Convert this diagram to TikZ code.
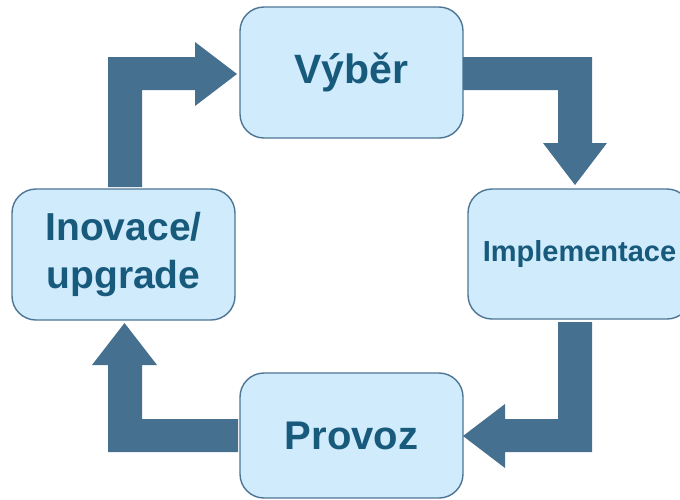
\documentclass[tikz,border=0pt]{standalone}
\usepackage{fontspec}
\setmainfont{Liberation Sans}
\definecolor{boxfill}{HTML}{CFEBFC}
\definecolor{boxline}{HTML}{4F7595}
\definecolor{arrowc}{HTML}{46708F}
\definecolor{textc}{HTML}{175A7C}
\tikzset{
  stagebox/.style={draw=boxline, line width=1.4pt, fill=boxfill, rounded corners=24pt,
    minimum width=223pt, text=textc, font=\bfseries, align=center, inner sep=0pt},
  bigarrow/.style={fill=arrowc, draw=none}
}
\begin{document}
\begin{tikzpicture}[x=1pt,y=-1pt]
\useasboundingbox (0,0) rectangle (680,499);
\clip (0,0) rectangle (680,499);
% boxes
\node[stagebox, minimum height=131pt, font=\bfseries\fontsize{41}{48}\selectfont] (vyber) at (351.5,72.5) {Výběr};
\node[stagebox, minimum height=131pt, font=\bfseries\fontsize{39}{48}\selectfont] (inov) at (123.5,254.5) {Inovace/\\upgrade};
\node[stagebox, minimum height=130pt, font=\bfseries\fontsize{29}{34}\selectfont] (impl) at (579.5,254) {Implementace};
\node[stagebox, minimum height=125pt, font=\bfseries\fontsize{40}{48}\selectfont] (provoz) at (351.5,435.5) {Provoz};
% arrows
\fill[bigarrow] (108,187) -- (108,57) -- (195,57) -- (195,42) -- (237,74) -- (195,106) -- (195,90) -- (142,90) -- (142,187) -- cycle;
\fill[bigarrow] (463,57) -- (592,57) -- (592,143) -- (607,143) -- (575,185) -- (543,143) -- (558,143) -- (558,90) -- (463,90) -- cycle;
\fill[bigarrow] (592,322) -- (592,452) -- (505,452) -- (505,468) -- (463,436) -- (505,404) -- (505,419) -- (558,419) -- (558,322) -- cycle;
\fill[bigarrow] (238,452) -- (108,452) -- (108,365) -- (92,365) -- (124.5,323) -- (157,365) -- (142,365) -- (142,419) -- (238,419) -- cycle;
\end{tikzpicture}
\end{document}
